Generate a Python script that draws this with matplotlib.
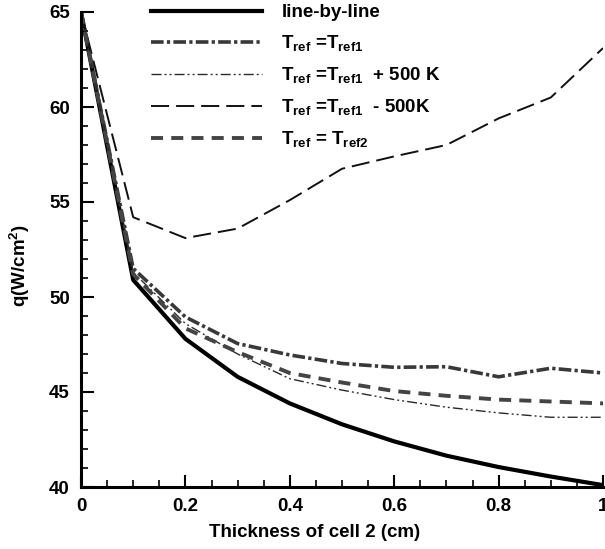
import numpy as np
import matplotlib
matplotlib.use("Agg")
import matplotlib.pyplot as plt
from matplotlib.ticker import MultipleLocator, FuncFormatter

# ===================== data =====================
thickness = [0.0, 0.1, 0.2, 0.3, 0.4, 0.5, 0.6, 0.7, 0.8, 0.9, 1.0]

q_lbl = [65.0, 50.9, 47.8, 45.8, 44.4, 43.3, 42.4, 41.65, 41.05, 40.55, 40.1]
q_tref1 = [65.0, 51.5, 48.95, 47.55, 46.95, 46.5, 46.3, 46.33, 45.8, 46.25, 46.0]
q_plus500 = [65.0, 51.3, 48.6, 47.0, 45.7, 45.1, 44.6, 44.2, 43.9, 43.67, 43.67]
q_minus500 = [65.0, 54.2, 53.1, 53.6, 55.1, 56.75, 57.4, 58.0, 59.4, 60.5, 63.1]
q_tref2 = [65.0, 51.2, 48.35, 47.1, 46.0, 45.5, 45.05, 44.8, 44.6, 44.5, 44.4]

labels = [
    "line-by-line",
    r"$T_{ref}$ =$T_{ref1}$",
    r"$T_{ref}$ =$T_{ref1}$  + 500 K",
    r"$T_{ref}$ =$T_{ref1}$  - 500K",
    r"$T_{ref}$ = $T_{ref2}$",
]

# ===================== style =====================
plt.rcParams["font.family"] = ["Liberation Sans", "DejaVu Sans"]
plt.rcParams["font.weight"] = "bold"
plt.rcParams["axes.labelweight"] = "bold"
plt.rcParams["mathtext.fontset"] = "custom"
plt.rcParams["mathtext.bf"] = "Liberation Sans:bold"
plt.rcParams["mathtext.rm"] = "Liberation Sans:bold"
plt.rcParams["mathtext.default"] = "bf"

fig = plt.figure(figsize=(6.05, 5.49), dpi=100)
ax = fig.add_axes([81 / 605, 1 - 487 / 549, 522 / 605, 475 / 549])

ax.plot(thickness, q_lbl, color="black", lw=3.0, label=labels[0])
ax.plot(thickness, q_tref1, color="#383838", lw=2.6,
        linestyle=(0, (3.5, 0.9, 0.9, 0.9)), label=labels[1])
ax.plot(thickness, q_plus500, color="#2a2a2a", lw=1.0,
        linestyle=(0, (7.2, 2.2, 1.4, 2.2, 1.4, 2.2)), label=labels[2])
ax.plot(thickness, q_minus500, color="#111111", lw=1.4,
        linestyle=(0, (9.3, 3.6)), label=labels[3])
ax.plot(thickness, q_tref2, color="#444444", lw=2.8,
        linestyle=(0, (3.1, 2.1)), label=labels[4])

ax.set_xlim(0, 1)
ax.set_ylim(40, 65)

ax.xaxis.set_major_locator(MultipleLocator(0.2))
ax.xaxis.set_minor_locator(MultipleLocator(0.05))
ax.yaxis.set_major_locator(MultipleLocator(5))
ax.yaxis.set_minor_locator(MultipleLocator(1))
ax.xaxis.set_major_formatter(FuncFormatter(lambda v, p: "%g" % round(v, 2)))

ax.tick_params(which="major", direction="in", length=9, width=1.5,
               labelsize=13.5, pad=8)
ax.tick_params(which="minor", direction="in", length=5, width=1.2)
ax.tick_params(top=False, right=False, which="both")

for side in ["top", "right"]:
    ax.spines[side].set_visible(False)
for side in ["left", "bottom"]:
    ax.spines[side].set_linewidth(2.2)

ax.set_xlabel("Thickness of cell 2 (cm)", fontsize=13.5)
ax.set_ylabel(r"q(W/cm$^2$)", fontsize=13.5)
ax.xaxis.set_label_coords(0.448, -0.078)
ax.yaxis.set_label_coords(-0.094, 0.467)

leg = ax.legend(loc="upper left", bbox_to_anchor=(151 / 605, 1 - 4 / 549),
                bbox_transform=fig.transFigure, frameon=False, fontsize=13.5,
                handlelength=5.9, handletextpad=1.05, labelspacing=0.64,
                borderpad=0, borderaxespad=0)

fig.savefig("out.png", dpi=100)
